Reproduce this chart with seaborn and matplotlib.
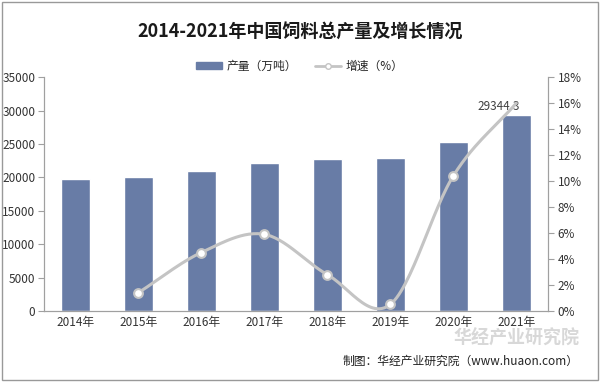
import numpy as np
import pandas as pd
import seaborn as sns
import matplotlib.pyplot as plt
from matplotlib.lines import Line2D
from matplotlib.patches import Patch

# data
years = ['2014年', '2015年', '2016年', '2017年', '2018年', '2019年', '2020年', '2021年']
output = [19727, 20009, 20918, 22161, 22788, 22885, 25276, 29344.3]
growth = [None, 1.4, 4.5, 5.9, 2.8, 0.5, 10.4, 16.0]

sns.set_style('white')
plt.rcParams['font.family'] = ['Noto Sans CJK SC', 'DejaVu Sans']

df = pd.DataFrame({'year': years, 'output': output, 'growth': growth})

fig = plt.figure(figsize=(6, 3.82), dpi=100)
ax = fig.add_axes([0.073, 0.186, 0.84, 0.612])

bar_color = '#687ca6'
line_color = '#c4c4c4'
grey = '#a0a0a0'

sns.barplot(data=df, x='year', y='output', color=bar_color, width=0.46,
            saturation=1, ax=ax)
ax.set_ylim(0, 35000)
ax.set_yticks(range(0, 35001, 5000))
ax.set_xlabel('')
ax.set_ylabel('')
ax.set_xlim(-0.5, 7.5)
ax.tick_params(axis='both', labelsize=8.5, colors='#333333', length=0)
ax.tick_params(axis='y', length=4, color=grey, direction='out', pad=2)
ax.set_xticks(np.arange(-0.5, 8, 1), minor=True)
ax.tick_params(axis='x', which='minor', length=4, color=grey)
ax.spines['top'].set_visible(False)
for s in ['left', 'bottom', 'right']:
    ax.spines[s].set_color(grey)
    ax.spines[s].set_linewidth(0.8)

# growth line on right axis, smoothed like the original
ax2 = ax.twinx()
gx = np.array([i for i, g in enumerate(growth) if g is not None], dtype=float)
gy = np.array([g for g in growth if g is not None], dtype=float)


def catmull(xp, yp, n=30):
    px = np.concatenate([[2 * xp[0] - xp[1]], xp, [2 * xp[-1] - xp[-2]]])
    py = np.concatenate([[2 * yp[0] - yp[1]], yp, [2 * yp[-1] - yp[-2]]])
    outx, outy = [], []
    for i in range(1, len(px) - 2):
        t = np.linspace(0, 1, n)
        for arr, out in ((px, outx), (py, outy)):
            p0, p1, p2, p3 = arr[i - 1], arr[i], arr[i + 1], arr[i + 2]
            out.extend(0.5 * ((2 * p1) + (-p0 + p2) * t
                              + (2 * p0 - 5 * p1 + 4 * p2 - p3) * t ** 2
                              + (-p0 + 3 * p1 - 3 * p2 + p3) * t ** 3))
    return np.array(outx), np.array(outy)


sx, sy = catmull(gx, gy)
ax2.plot(sx, sy, color=line_color, lw=2.2, zorder=2)
sns.scatterplot(x=gx[:-1], y=gy[:-1], ax=ax2, s=40, color='white',
                edgecolor=line_color, linewidth=1.5, zorder=3)
ax2.set_ylim(0, 18)
ax2.set_yticks(range(0, 19, 2))
ax2.set_yticklabels([f'{v}%' for v in range(0, 19, 2)])
ax2.tick_params(axis='y', labelsize=8.5, colors='#333333', length=4, pad=3)
ax2.tick_params(axis='y', color=grey)
ax2.spines['top'].set_visible(False)
for s in ['left', 'bottom', 'right']:
    ax2.spines[s].set_color(grey)
    ax2.spines[s].set_linewidth(0.8)

ax.text(7.05, output[-1] + 300, f'{output[-1]}', ha='right', va='bottom',
        fontsize=8.5, color='#404040', zorder=5)

fig.text(0.5, 0.915, '2014-2021年中国饲料总产量及增长情况', ha='center',
         va='center', fontsize=13, fontweight='bold', color='#1a1a1a')

handles = [Patch(color=bar_color),
           Line2D([], [], color=line_color, lw=2, marker='o', markersize=4,
                  markerfacecolor='white', markeredgecolor=line_color)]
fig.legend(handles, ['产量（万吨）', '增速（%）'], loc='center',
           bbox_to_anchor=(0.5, 0.827), ncol=2, frameon=False, fontsize=8.5,
           handlelength=2.2, handleheight=0.6, columnspacing=1.5,
           handletextpad=0.4)

# watermark and source
fig.text(0.965, 0.115, '华经产业研究院', ha='right', va='center', fontsize=13,
         fontweight='bold', color='#d8d8d8')
fig.text(0.965, 0.053, '制图：华经产业研究院（www.huaon.com）', ha='right',
         va='center', fontsize=8.5, color='#222222')

fig.patches.append(plt.Rectangle((0.004, 0.005), 0.992, 0.99,
                                 transform=fig.transFigure, fill=False,
                                 edgecolor='#999999', lw=1))

fig.savefig('out.png', dpi=100)
